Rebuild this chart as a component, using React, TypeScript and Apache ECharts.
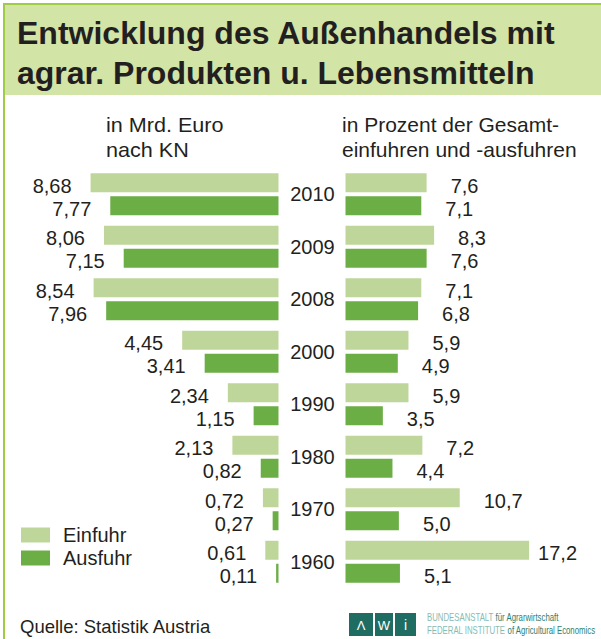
import React, { useEffect, useRef } from "react";
import * as echarts from "echarts";

const years = ["2010", "2009", "2008", "2000", "1990", "1980", "1970", "1960"];
const einfuhrMrd = [8.68, 8.06, 8.54, 4.45, 2.34, 2.13, 0.72, 0.61];
const ausfuhrMrd = [7.77, 7.15, 7.96, 3.41, 1.15, 0.82, 0.27, 0.11];
const einfuhrPct = [7.6, 8.3, 7.1, 5.9, 5.9, 7.2, 10.7, 17.2];
const ausfuhrPct = [7.1, 7.6, 6.8, 4.9, 3.5, 4.4, 5.0, 5.1];

const titleLines = ["Entwicklung des Außenhandels mit", "agrar. Produkten u. Lebensmitteln"];
const leftSub = ["in Mrd. Euro", "nach KN"];
const rightSub = ["in Prozent der Gesamt-", "einfuhren und -ausfuhren"];
const source = "Quelle: Statistik Austria";

const C_IN = "#bfd69b";
const C_OUT = "#6cae46";
const TXT = "#231f20";
const FONT = "Liberation Sans, Arial, sans-serif";
const TEAL = "#1f6d62";

const fmt = (d: number) => (p: any) => Number(p.value).toFixed(d).replace(".", ",");

export default function App() {
  const ref = useRef<HTMLDivElement>(null);
  useEffect(() => {
    const chart = echarts.init(ref.current!, null, { renderer: "svg" });
    const labelBase = { show: true, fontSize: 20, color: TXT, fontFamily: FONT, offset: [0, 3] };
    const leftSeries = (name: string, data: number[], color: string) => ({
      type: "bar",
      name,
      xAxisIndex: 0,
      yAxisIndex: 0,
      data,
      barWidth: 19,
      barGap: "21%",
      itemStyle: { color },
      label: { ...labelBase, position: "left", distance: 19, formatter: fmt(2) },
    });
    const rightSeries = (name: string, data: number[], color: string) => ({
      type: "bar",
      name,
      xAxisIndex: 1,
      yAxisIndex: 1,
      data: data.map((v) => (v > 15 ? { value: v, label: { distance: 9 } } : v)),
      barWidth: 19,
      barGap: "21%",
      itemStyle: { color },
      label: { ...labelBase, position: "right", distance: 24, formatter: fmt(1) },
    });

    const logoLine = (text: string, y: number) => ({
      type: "text",
      x: 427,
      y,
      scaleX: 0.78,
      style: {
        text,
        verticalAlign: "middle",
        fontSize: 10,
        fontFamily: FONT,
        rich: {
          a: { fill: "#86bcb3", fontSize: 10, fontFamily: FONT },
          b: { fill: "#2b7f71", fontSize: 10, fontFamily: FONT },
        },
      },
    });

    const option: any = {
      animation: false,
      textStyle: { fontFamily: FONT },
      grid: [
        { left: 62, right: 322.5, top: 168, height: 420 },
        { left: 345.5, right: 42, top: 168, height: 420 },
      ],
      xAxis: [
        { gridIndex: 0, type: "value", inverse: true, min: 0, max: 10, show: false },
        { gridIndex: 1, type: "value", min: 0, max: 20, show: false },
      ],
      yAxis: [
        { gridIndex: 0, type: "category", inverse: true, data: years, show: false },
        {
          gridIndex: 1,
          type: "category",
          inverse: true,
          data: years,
          axisLine: { show: false },
          axisTick: { show: false },
          axisLabel: { margin: 33, align: "center", fontSize: 20, color: TXT, fontFamily: FONT },
        },
      ],
      legend: {
        data: ["Einfuhr", "Ausfuhr"],
        orient: "vertical",
        left: 21,
        top: 525,
        padding: 0,
        itemWidth: 29,
        itemHeight: 15,
        itemGap: 3,
        icon: "rect",
        textStyle: { fontSize: 20, color: TXT, padding: [0, 0, 0, 8], fontFamily: FONT },
      },
      series: [
        leftSeries("Einfuhr", einfuhrMrd, C_IN),
        leftSeries("Ausfuhr", ausfuhrMrd, C_OUT),
        rightSeries("Einfuhr", einfuhrPct, C_IN),
        rightSeries("Ausfuhr", ausfuhrPct, C_OUT),
      ],
      graphic: [
        { type: "rect", shape: { x: 5, y: 5, width: 596, height: 90 }, style: { fill: "#d3e4a7" } },
        {
          type: "polyline",
          shape: { points: [[4, 639], [4, 4], [601, 4]] },
          style: { stroke: "#9fcb45", lineWidth: 2, fill: null },
        },
        ...titleLines.map((t, i) => ({
          type: "text",
          x: 17,
          y: 33 + i * 40,
          style: { text: t, fill: TXT, fontSize: 32, fontWeight: "bold", fontFamily: FONT, verticalAlign: "middle" },
        })),
        ...leftSub.map((t, i) => ({
          type: "text",
          x: 106,
          y: 125 + i * 25,
          scaleX: 1.08,
          style: { text: t, fill: TXT, fontSize: 20, fontFamily: FONT, verticalAlign: "middle" },
        })),
        ...rightSub.map((t, i) => ({
          type: "text",
          x: 342,
          y: 125 + i * 25,
          scaleX: 1.05,
          style: { text: t, fill: TXT, fontSize: 20, fontFamily: FONT, verticalAlign: "middle" },
        })),
        {
          type: "text",
          x: 20,
          y: 626,
          style: { text: source, fill: TXT, fontSize: 18.5, fontFamily: FONT, verticalAlign: "middle" },
        },
        { type: "rect", shape: { x: 349, y: 613, width: 24, height: 23 }, style: { fill: TEAL } },
        { type: "rect", shape: { x: 375, y: 613, width: 18, height: 23 }, style: { fill: TEAL } },
        { type: "rect", shape: { x: 395, y: 613, width: 21, height: 23 }, style: { fill: TEAL } },
        {
          type: "text",
          x: 361,
          y: 625,
          style: { text: "Λ", fill: "#fff", fontSize: 13, fontFamily: FONT, align: "center", verticalAlign: "middle" },
        },
        {
          type: "text",
          x: 384,
          y: 625,
          style: { text: "W", fill: "#fff", fontSize: 13, fontFamily: FONT, align: "center", verticalAlign: "middle" },
        },
        {
          type: "text",
          x: 405.5,
          y: 625,
          style: { text: "i", fill: "#fff", fontSize: 14, fontFamily: FONT, align: "center", verticalAlign: "middle" },
        },
        logoLine("{a|BUNDESANSTALT} {b|für Agrarwirtschaft}", 618),
        logoLine("{a|FEDERAL INSTITUTE} {b|of Agricultural Economics}", 631),
      ],
    };
    chart.setOption(option);
    return () => chart.dispose();
  }, []);
  return (
    <div
      ref={ref}
      style={{ position: "fixed", left: 0, top: 0, width: 601, height: 639, background: "#fff" }}
    />
  );
}
